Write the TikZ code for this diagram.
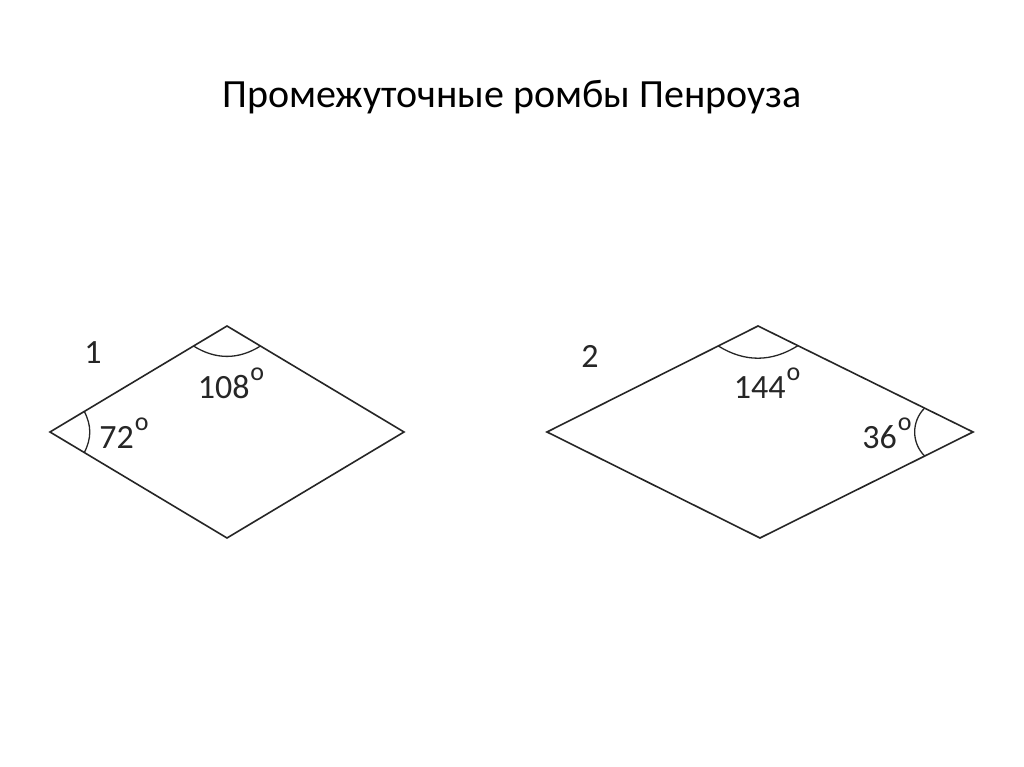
\documentclass[tikz,border=0pt]{standalone}
\usepackage{fontspec}
\setmainfont{Carlito}
\usetikzlibrary{calc}
\newcommand{\degsym}{\kern1pt\raisebox{18pt}{\fontsize{26}{26}\selectfont o}}
\begin{document}
\begin{tikzpicture}[x=1pt,y=1pt,
  edge/.style={draw=black!85, line width=1.6pt, line join=miter},
  anglearc/.style={draw=black!85, line width=1.3pt},
  lbl/.style={font=\fontsize{34}{40}\selectfont, text=black!85, inner sep=0pt},
  ttl/.style={font=\fontsize{40}{46}\selectfont, text=black, inner sep=0pt}]
\useasboundingbox[fill=white] (0,0) rectangle (1024,767);
\node[ttl] (title) at (512,670) {Промежуточные ромбы Пенроуза};
% rhombus 1
\coordinate (L1) at (50,335);
\coordinate (T1) at (227,441);
\coordinate (R1) at (404,335);
\coordinate (B1) at (227,229);
\draw[edge] (L1) -- (T1) -- (R1) -- (B1) -- cycle;
\draw[anglearc] ($(L1)!40pt!(T1)$) to[bend left=27] ($(L1)!40pt!(B1)$);
\draw[anglearc] ($(T1)!39pt!(L1)$) to[bend right=32] ($(T1)!39pt!(R1)$);
\node[lbl] (n1) at (93,414) {1};
\node[lbl] (a108) at (231,384) {108\degsym};
\node[lbl] (a72) at (124,334) {72\degsym};
% rhombus 2
\coordinate (L2) at (547,335);
\coordinate (T2) at (758,441);
\coordinate (R2) at (973,335);
\coordinate (B2) at (760,229);
\draw[edge] (L2) -- (T2) -- (R2) -- (B2) -- cycle;
\draw[anglearc] ($(T2)!44.5pt!(L2)$) to[bend right=32] ($(T2)!44.5pt!(R2)$);
\draw[anglearc] ($(R2)!54pt!(T2)$) to[bend right=45] ($(R2)!54pt!(B2)$);
\node[lbl] (n2) at (590,411) {2};
\node[lbl] (a144) at (767,384) {144\degsym};
\node[lbl] (a36) at (887,334) {36\degsym};
\end{tikzpicture}
\end{document}
